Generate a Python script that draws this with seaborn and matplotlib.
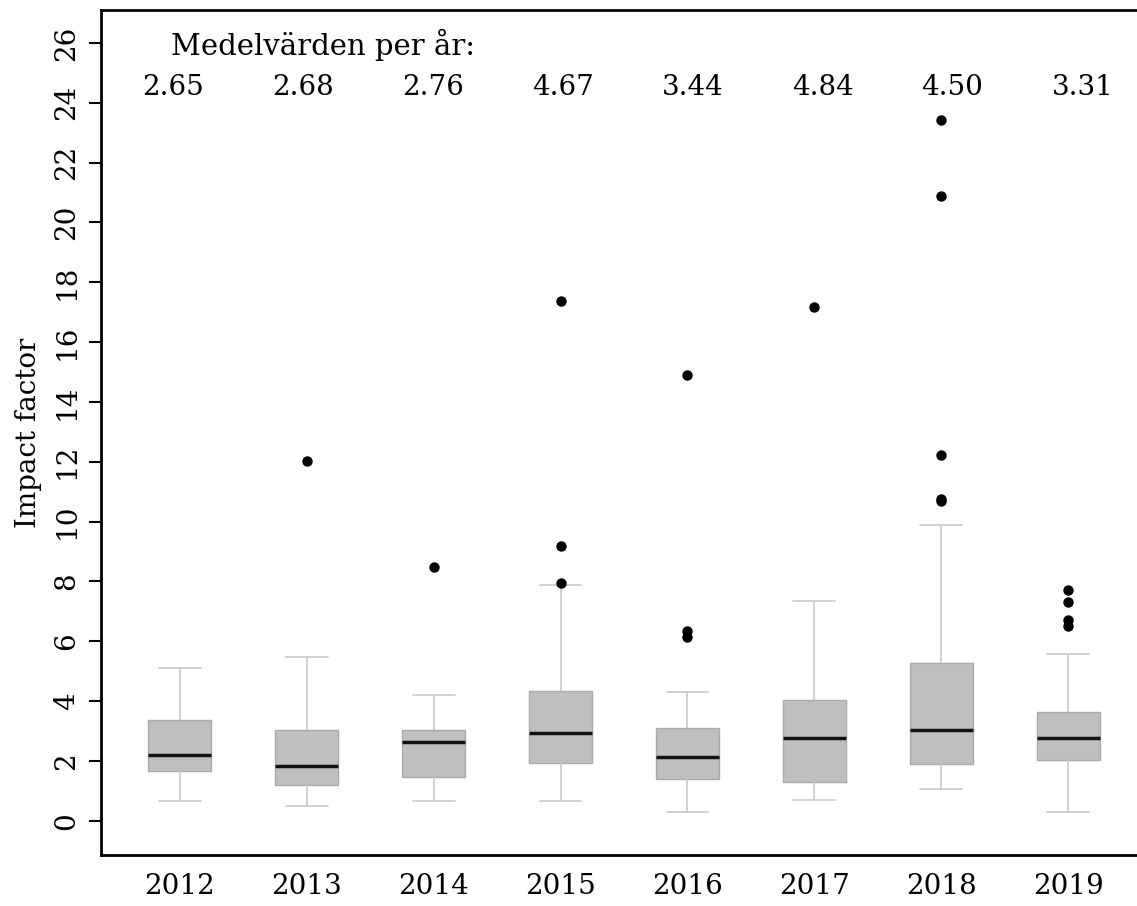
import pandas as pd
import numpy as np
import seaborn as sns
import matplotlib.pyplot as plt

sns.set_style("white")
plt.rcParams['font.family'] = ['DejaVu Serif', 'Liberation Serif']
plt.rcParams['text.color'] = 'black'
plt.rcParams['axes.labelcolor'] = 'black'
plt.rcParams['xtick.color'] = 'black'
plt.rcParams['ytick.color'] = 'black'

# years and box statistics (lower whisker, q1, median, q3, upper whisker)
years = ["2012", "2013", "2014", "2015", "2016", "2017", "2018", "2019"]
whisk_lo = [0.65, 0.50, 0.65, 0.65, 0.31, 0.71, 1.08, 0.31]
q1 = [1.67, 1.21, 1.45, 1.95, 1.39, 1.31, 1.91, 2.04]
median = [2.19, 1.84, 2.62, 2.94, 2.14, 2.77, 3.03, 2.76]
q3 = [3.38, 3.04, 3.04, 4.34, 3.11, 4.03, 5.27, 3.64]
whisk_hi = [5.10, 5.47, 4.21, 7.89, 4.30, 7.34, 9.88, 5.57]

# outliers
out_year = ["2013", "2014", "2015", "2015", "2015", "2016", "2016", "2016", "2017",
            "2018", "2018", "2018", "2018", "2018",
            "2019", "2019", "2019", "2019"]
out_value = [12.03, 8.47, 17.39, 9.18, 7.96, 14.91, 6.33, 6.14, 17.19,
             23.42, 20.87, 12.23, 10.76, 10.70,
             7.72, 7.32, 6.72, 6.52]

# yearly means
means = ["2.65", "2.68", "2.76", "4.67", "3.44", "4.84", "4.50", "3.31"]

rows = []
for i, y in enumerate(years):
    for v in [whisk_lo[i], q1[i], median[i], q3[i], whisk_hi[i]]:
        rows.append({"year": y, "value": v})
box_df = pd.DataFrame(rows)
out_df = pd.DataFrame({"year": out_year, "value": out_value})

fig = plt.figure(figsize=(11.37, 9.06), dpi=100)
ax = fig.add_axes([0.0888, 0.0563, 0.92, 0.9327])

sns.boxplot(data=box_df, x="year", y="value", order=years, whis=(0, 100),
            width=0.5, color="#bfbfbf", saturation=1, showfliers=False,
            boxprops={"edgecolor": "#aaaaaa", "linewidth": 1},
            whiskerprops={"color": "#c8c8c8", "linewidth": 1.2},
            capprops={"color": "#c8c8c8", "linewidth": 1.2},
            medianprops={"color": "#111111", "linewidth": 2.5},
            capwidths=0.33, ax=ax)
sns.stripplot(data=out_df, x="year", y="value", order=years, jitter=False,
              color="black", size=7.5, ax=ax, zorder=5)

ax.set_xlim(-0.62, 7.62)
ax.set_ylim(-1.14, 27.1)
ax.set_yticks(np.arange(0, 27, 2))
ax.set_yticklabels([str(t) for t in range(0, 27, 2)], rotation=90, va="center")
ax.tick_params(axis="y", length=9, width=1.5, pad=6, labelsize=20, left=True)
ax.tick_params(axis="x", length=0, pad=13, labelsize=20)
ax.set_xlabel("")
ax.set_ylabel("Impact factor", fontsize=20, labelpad=8)
for s in ax.spines.values():
    s.set_linewidth(2)
    s.set_color("black")

ax.text(-0.07, 25.93, "Medelvärden per år:", fontsize=21, ha="left", va="center")
for i, m in enumerate(means):
    ax.text(-0.05 + 1.023 * i, 24.5, m, fontsize=20, ha="center", va="center")

plt.savefig("out.png", dpi=100)
